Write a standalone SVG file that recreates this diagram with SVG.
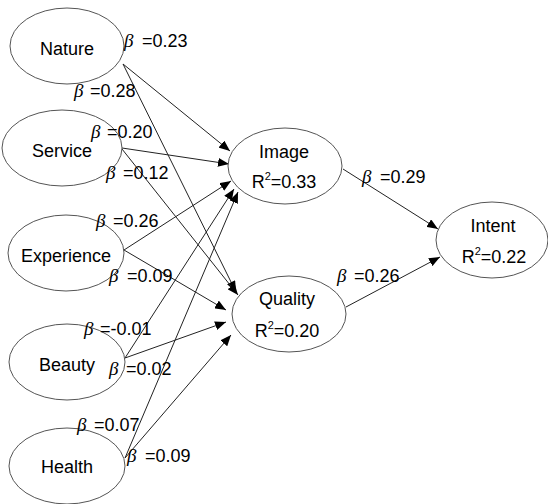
<svg xmlns="http://www.w3.org/2000/svg" width="548" height="504" viewBox="0 0 548 504">
<style>
.n ellipse{fill:#fff;stroke:#555;stroke-width:1}
text{font-family:"Liberation Sans",Arial,sans-serif;font-size:18px;fill:#000}
.c{text-anchor:middle}
.b{font-family:"Liberation Serif","Times New Roman",serif;font-style:italic;font-size:19px}
.e line{stroke:#222;stroke-width:1;marker-end:url(#ah)}
</style>
<defs>
<marker id="ah" markerUnits="userSpaceOnUse" markerWidth="12" markerHeight="9" refX="11" refY="4.5" orient="auto">
<path d="M0,0 L11,4.5 L0,9 z" fill="#000"/>
</marker>
</defs>
<rect width="548" height="504" fill="#fff"/>
<g class="e" id="connectors">
<line x1="123" y1="64" x2="230" y2="151"/>
<line x1="123" y1="64" x2="236" y2="292"/>
<line x1="122" y1="148" x2="229" y2="164"/>
<line x1="122" y1="149" x2="238" y2="295"/>
<line x1="124" y1="250" x2="231" y2="181"/>
<line x1="124" y1="250" x2="226" y2="310"/>
<line x1="125" y1="358" x2="234" y2="189"/>
<line x1="125" y1="358" x2="226" y2="322"/>
<line x1="125" y1="458" x2="238" y2="192"/>
<line x1="125" y1="458" x2="231" y2="335"/>
<line x1="343" y1="169" x2="438" y2="229"/>
<line x1="346" y1="307" x2="440" y2="257"/>
</g>
<g class="n" id="nature"><ellipse cx="67" cy="46" rx="57" ry="38"/><text class="c" x="67" y="55">Nature</text></g>
<g class="n" id="service"><ellipse cx="62" cy="148" rx="60" ry="38"/><text class="c" x="62" y="157">Service</text></g>
<g class="n" id="experience"><ellipse cx="66" cy="253" rx="58" ry="38"/><text class="c" x="66" y="262">Experience</text></g>
<g class="n" id="beauty"><ellipse cx="67" cy="362" rx="58" ry="38"/><text class="c" x="67" y="371">Beauty</text></g>
<g class="n" id="health"><ellipse cx="67" cy="466" rx="58" ry="38"/><text class="c" x="67" y="473">Health</text></g>
<g class="n" id="image"><ellipse cx="285" cy="166" rx="57" ry="38"/><text class="c" x="284" y="158">Image</text><text class="c" x="284" y="188">R<tspan font-size="11" dy="-8">2</tspan><tspan dy="8">=0.33</tspan></text></g>
<g class="n" id="quality"><ellipse cx="289" cy="314" rx="57" ry="38"/><text class="c" x="287" y="305">Quality</text><text class="c" x="287" y="337">R<tspan font-size="11" dy="-8">2</tspan><tspan dy="8">=0.20</tspan></text></g>
<g class="n" id="intent"><ellipse cx="492" cy="240" rx="56" ry="38"/><text class="c" x="493" y="232">Intent</text><text class="c" x="494" y="263">R<tspan font-size="11" dy="-8">2</tspan><tspan dy="8">=0.22</tspan></text></g>
<g id="labels">
<text class="b" x="124" y="47">β</text><text x="142" y="47">=0.23</text>
<text class="b" x="74" y="97">β</text><text x="90" y="97">=0.28</text>
<text class="b" x="91" y="138">β</text><text x="107" y="138">=0.20</text>
<text class="b" x="106" y="179">β</text><text x="123" y="179">=0.12</text>
<text class="b" x="96" y="227">β</text><text x="113" y="227">=0.26</text>
<text class="b" x="109" y="282">β</text><text x="127" y="282">=0.09</text>
<text class="b" x="84" y="335">β</text><text x="100" y="335">=-0.01</text>
<text class="b" x="109" y="375">β</text><text x="126" y="375">=0.02</text>
<text class="b" x="77" y="431">β</text><text x="94" y="431">=0.07</text>
<text class="b" x="127" y="462">β</text><text x="145" y="462">=0.09</text>
<text class="b" x="362" y="183">β</text><text x="380" y="183">=0.29</text>
<text class="b" x="337" y="282">β</text><text x="354" y="282">=0.26</text>
</g>
</svg>
